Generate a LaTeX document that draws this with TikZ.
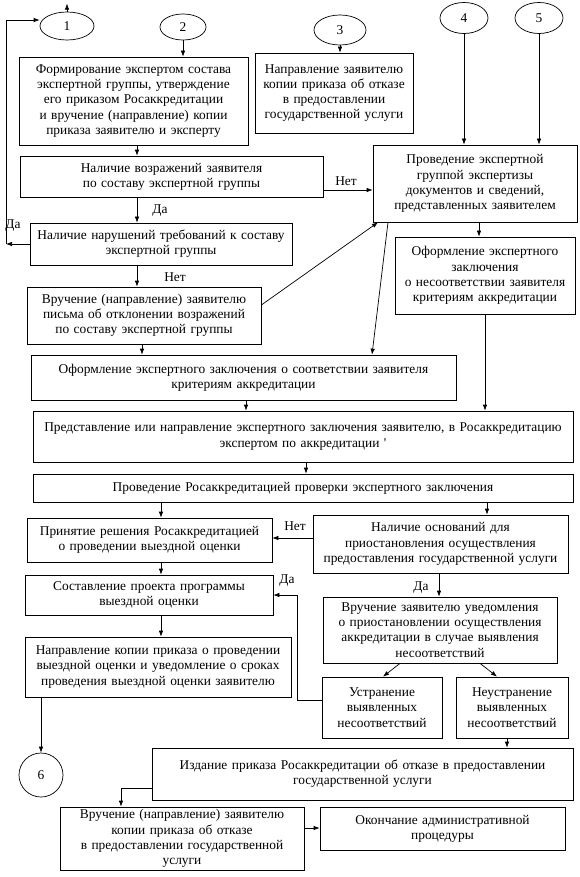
\documentclass[tikz,border=0pt]{standalone}
\usepackage{fontspec}
\setmainfont{Liberation Serif}
\newfontfamily\plainf{Liberation Serif}
\usetikzlibrary{shapes.geometric,arrows.meta}
\tikzset{
  box/.style={draw, line width=0.7pt, align=center, inner sep=1pt, font=\fontsize{13.4}{15.2}\selectfont},
  ell/.style={draw, ellipse, line width=0.7pt, inner sep=0pt, font=\fontsize{13.4}{15}\selectfont},
  arr/.style={-{Latex[length=6pt,width=4.5pt]}, line width=0.7pt},
  ln/.style={line width=0.7pt},
  lbl/.style={inner sep=0pt, font=\fontsize{13.4}{15}\selectfont}
}
\newcommand\bx[6]{%
  \pgfmathsetmacro\bxw{#4-#2}\pgfmathsetmacro\bxh{#5-#3}%
  \pgfmathsetmacro\bxtw{#4-#2-4}%
  \pgfmathsetmacro\bxcx{(#2+#4)/2}\pgfmathsetmacro\bxcy{(#3+#5)/2}%
  \node[box,minimum width=\bxw pt,minimum height=\bxh pt,text width=\bxtw pt] (#1) at (\bxcx,\bxcy) {#6};}
\begin{document}
\begin{tikzpicture}[x=1pt,y=-1pt]
\fill[white] (0,0) rectangle (579,877);
\useasboundingbox (0,0) rectangle (579,877);

% connector circles
\node[ell, minimum width=54pt, minimum height=28pt] (e1) at (67,26) {1};
\node[ell, minimum width=46pt, minimum height=26pt] (e2) at (183,27) {2};
\node[ell, minimum width=52pt, minimum height=30pt] (e3) at (340,30) {3};
\node[ell, minimum width=48pt, minimum height=31pt] (e4) at (464,18) {4};
\node[ell, minimum width=48pt, minimum height=31pt] (e5) at (539,18) {5};
\node[ell, circle, minimum size=44pt] (e6) at (41,775) {6};

% boxes
\bx{A}{19}{57}{248}{145}{Формирование экспертом состава\\ экспертной группы, утверждение\\ его приказом Росаккредитации\\ и вручение (направление) копии\\ приказа заявителю и эксперту}
\bx{B}{255}{53}{413}{133}{Направление заявителю\\ копии приказа об отказе\\ в предоставлении\\ государственной услуги}
\bx{C}{373}{145}{577}{222}{Проведение экспертной\\ группой экспертизы\\ документов и сведений,\\ представленных заявителем}
\bx{D}{20}{156}{323}{197}{Наличие возражений заявителя\\ по составу экспертной группы}
\bx{E}{30}{223}{292}{265}{Наличие нарушений требований к составу\\ экспертной группы}
\bx{F}{27}{287}{261}{344}{Вручение (направление) заявителю\\ письма об отклонении возражений\\ по составу экспертной группы}
\bx{C2}{395}{237}{575}{314}{Оформление экспертного\\ заключения\\ о несоответствии заявителя\\ критериям аккредитации}
\bx{G}{31}{355}{456}{400}{Оформление экспертного заключения о соответствии заявителя\\ критериям аккредитации}
\bx{H}{33}{411}{573}{462}{Представление или направление экспертного заключения заявителю, в Росаккредитацию\\ экспертом по аккредитации {\plainf '}}
\bx{I}{33}{474}{573}{502}{Проведение Росаккредитацией проверки экспертного заключения}
\bx{J}{27}{518}{272}{562}{Принятие решения Росаккредитацией\\ о проведении выездной оценки}
\bx{K}{313}{515}{568}{573}{Наличие оснований для\\ приостановления осуществления\\ предоставления государственной услуги}
\bx{L}{25}{575}{273}{615}{Составление проекта программы\\ выездной оценки}
\bx{N}{323}{597}{557}{663}{Вручение заявителю уведомления\\ о приостановлении осуществления\\ аккредитации в случае выявления\\ несоответствий}
\bx{M}{25}{637}{291}{697}{Направление копии приказа о проведении\\ выездной оценки и уведомление о сроках\\ проведения выездной оценки заявителю}
\bx{O}{322}{677}{442}{738}{Устранение\\ выявленных\\ несоответствий}
\bx{P}{456}{677}{568}{738}{Неустранение\\ выявленных\\ несоответствий}
\bx{Q}{152}{748}{573}{800}{Издание приказа Росаккредитации об отказе в предоставлении\\ государственной услуги}
\bx{R}{60}{807}{304}{870}{Вручение (направление) заявителю\\ копии приказа об отказе\\ в предоставлении государственной\\ услуги}
\bx{S}{320}{807}{565}{850}{Окончание административной\\ процедуры}

% loop back to 1
\coordinate (lb) at (6,244);
\coordinate (lt) at (6,20);
\draw[arr] (E.west) -- (lb);
\draw[arr] (lb) -- (lt) -- (lt -| e1.west);
\draw[arr] (e1.north) -- ++(0,-8);

% arrows
\draw[arr] (e2.south) -- (A.north -| e2.south);
\draw[arr] (e3.south) -- (B.north -| e3.south);
\draw[arr] (e4.south) -- (C.north -| e4.south);
\draw[arr] (e5.south) -- (C.north -| e5.south);
\draw[arr] (A.south -| 137,0) -- (D.north -| 137,0);
\draw[arr] (D.east |- 0,190) -- (C.west |- 0,190);
\draw[arr] (D.south -| 137,0) -- (E.north -| 137,0);
\draw[arr] (E.south -| 137,0) -- (F.north -| 137,0);
\draw[arr] (F.east |- 0,305) -- (C.south -| 378,0);
\draw[arr] (C.south -| 388,0) -- (G.north -| 372,0);
\draw[arr] (C.south -| 479,0) -- (C2.north -| 479,0);
\draw[arr] (F.south -| 142,0) -- (G.north -| 142,0);
\draw[arr] (C2.south -| 485,0) -- (H.north -| 485,0);
\draw[arr] (G.south -| 246,0) -- (H.north -| 246,0);
\draw[arr] (H.south -| 306,0) -- (I.north -| 306,0);
\draw[arr] (I.south -| 161,0) -- (J.north -| 161,0);
\draw[arr] (I.south -| 487,0) -- (K.north -| 487,0);
\draw[arr] (K.west |- 0,538) -- (J.east |- 0,538);
\draw[arr] (J.south -| 161,0) -- (L.north -| 161,0);
\draw[arr] (L.south -| 161,0) -- (M.north -| 161,0);
\draw[arr] (K.south -| 439,0) -- (N.north -| 439,0);
\draw[arr] (N.south -| 400,0) -- (O.north -| 383,0);
\draw[arr] (N.south -| 480,0) -- (P.north -| 497,0);
\draw[arr] (O.west |- 0,700) -- ++(-24,0) |- (L.east);
\draw[arr] (M.south -| e6.north) -- (e6.north);
\draw[arr] (P.south -| 507,0) -- (Q.north -| 507,0);
\draw[arr] (Q.west |- 0,788) -| (R.north -| 121,0);
\draw[arr] (R.east |- 0,828) -- (S.west |- 0,828);

% labels
\node[lbl] (l1) at (346,181) {Нет};
\node[lbl] (l2) at (160,211) {Да};
\node[lbl] (l3) at (13,226) {Да};
\node[lbl] (l4) at (175,277) {Нет};
\node[lbl] (l5) at (295,526) {Нет};
\node[lbl] (l6) at (287,581) {Да};
\node[lbl] (l7) at (421,588) {Да};
\end{tikzpicture}
\end{document}
